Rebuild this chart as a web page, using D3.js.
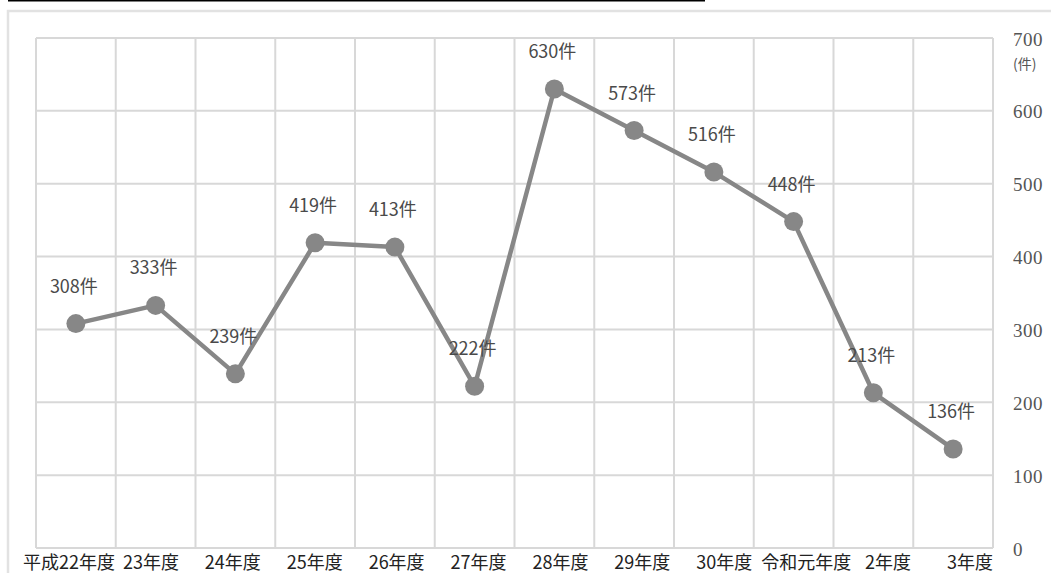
<!DOCTYPE html>
<html><head><meta charset="utf-8">
<script src="https://cdn.jsdelivr.net/npm/d3@7"></script>
<style>body{margin:0;background:#fff}svg{display:block}</style>
</head><body>
<svg id="c" width="1051" height="573"></svg>
<script>
const categories = ["平成22年度","23年度","24年度","25年度","26年度","27年度","28年度","29年度","30年度","令和元年度","2年度","3年度"];
const values = [308,333,239,419,413,222,630,573,516,448,213,136];
const yTicks = [0,100,200,300,400,500,600,700];
const unitLabel = "(件)";
const suffix = "件";

const svg = d3.select("#c");
svg.append("rect").attr("width",1051).attr("height",573).attr("fill","#fff");
// top black rule
svg.append("line").attr("x1",8).attr("x2",705).attr("y1",0.8).attr("y2",0.8).attr("stroke","#000").attr("stroke-width",1.6);
// outer frame
svg.append("rect").attr("x",8).attr("y",11).attr("width",1060).attr("height",580)
  .attr("fill","none").attr("stroke","#e2e2e2").attr("stroke-width",2.5);

const x = d3.scaleBand().domain(categories).range([36,993]).padding(0);
const y = d3.scaleLinear().domain([0,700]).range([548,38]);
const xl = d3.scalePoint().domain(categories).range([69,970]);

const grid = svg.append("g").attr("stroke","#d8d8d8").attr("stroke-width",2);
grid.selectAll("line.h").data(yTicks).join("line").attr("class","h")
  .attr("x1",36).attr("x2",993).attr("y1",d=>y(d)).attr("y2",d=>y(d));
const bounds = categories.map(c=>x(c)).concat([x(categories[categories.length-1])+x.bandwidth()]);
grid.selectAll("line.v").data(bounds).join("line").attr("class","v")
  .attr("x1",d=>d).attr("x2",d=>d).attr("y1",38).attr("y2",548);

const cx = (d,i)=>x(categories[i])+x.bandwidth()/2;
const line = d3.line().x((d,i)=>cx(d,i)).y(d=>y(d));
svg.append("path").datum(values).attr("d",line).attr("fill","none")
  .attr("stroke","#878787").attr("stroke-width",4.5).attr("stroke-linejoin","round");
svg.selectAll("circle.p").data(values).join("circle").attr("class","p")
  .attr("cx",cx).attr("cy",d=>y(d)).attr("r",9.5).attr("fill","#878787");

svg.selectAll("text.lab").data(values).join("text").attr("class","lab")
  .attr("x",(d,i)=>cx(d,i)-2).attr("y",d=>y(d)-39)
  .attr("text-anchor","middle").attr("dominant-baseline","central")
  .attr("font-family","'Noto Sans CJK JP', 'Noto Sans', sans-serif").attr("font-size",18)
  .attr("fill","#4a4a4a").text(d=>d+suffix);

// x labels
svg.append("g").selectAll("text").data(categories).join("text")
  .attr("x",d=>xl(d)).attr("y",569).attr("text-anchor","middle")
  .attr("font-family","'Noto Sans CJK JP', sans-serif").attr("font-size",18)
  .attr("fill","#222").text(d=>d);

// right y axis
const ax = svg.append("g").attr("transform","translate(1013,1)")
  .call(d3.axisRight(y).tickValues(yTicks).tickSize(0).tickPadding(0));
ax.select(".domain").remove();
ax.selectAll("text").attr("font-family","'Liberation Serif', serif").attr("font-size",19)
  .attr("fill","#555").attr("letter-spacing","0.5px").attr("text-anchor","start");
svg.append("text").attr("x",1013).attr("y",63).attr("dominant-baseline","central")
  .attr("font-family","'Noto Sans CJK JP', sans-serif").attr("font-size",14)
  .attr("fill","#555").text(unitLabel);
</script>
</body></html>
